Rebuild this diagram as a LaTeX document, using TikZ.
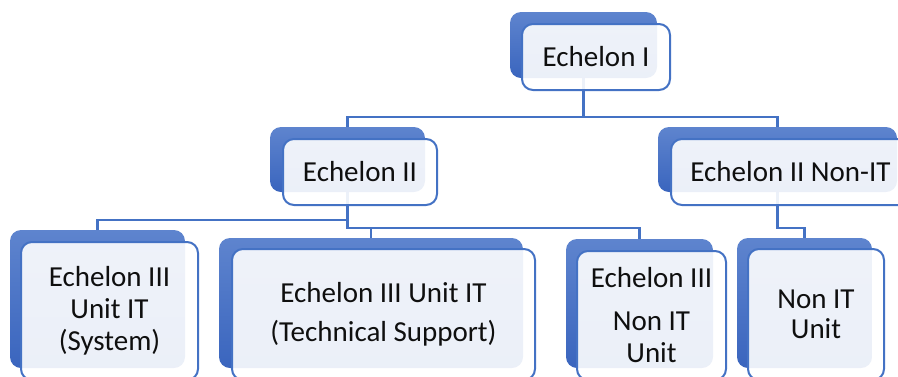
\documentclass[tikz,border=0pt]{standalone}
\usepackage{fontspec}
\setmainfont{Carlito}
\usetikzlibrary{backgrounds}
\definecolor{boxline}{RGB}{68,114,196}
\definecolor{backtop}{RGB}{94,132,206}
\definecolor{backbot}{RGB}{58,101,190}
\definecolor{inktext}{RGB}{15,15,15}
\begin{document}
\begin{tikzpicture}[x=1pt, y=-1pt,
   backbox/.style={rounded corners=11pt, top color=backtop, bottom color=backbot, inner sep=0pt},
   unitbox/.style={draw=boxline, line width=2pt, rounded corners=11pt, fill=white,
                   fill opacity=0.9, text opacity=1, text=inktext, inner sep=0pt, align=center,
                   font=\fontsize{29}{32}\selectfont},
   conn/.style={draw=boxline, line width=2.2pt}]

\useasboundingbox (0,0) rectangle (898,376);
\clip (0,0) rectangle (898,376);

% back boxes
\node[backbox, minimum width=147pt, minimum height=66pt] (e1b) at (583.5,45) {};
\node[backbox, minimum width=155pt, minimum height=65pt] (e2b) at (347.5,159.5) {};
\node[backbox, minimum width=239pt, minimum height=65pt] (e2nb) at (777.5,159.5) {};
\node[backbox, minimum width=175pt, minimum height=138pt] (e3ab) at (97.5,299) {};
\node[backbox, minimum width=304pt, minimum height=130pt] (e3bb) at (371,303) {};
\node[backbox, minimum width=147pt, minimum height=129pt] (e3cb) at (639.5,303.5) {};
\node[backbox, minimum width=135pt, minimum height=130pt] (e3db) at (804.5,303) {};

% front boxes
\node[unitbox, minimum width=148pt, minimum height=66pt] (e1) at (596,57) {Echelon I};
\node[unitbox, minimum width=154pt, minimum height=66pt] (e2) at (360,172) {Echelon II};
\node[unitbox, minimum width=239pt, minimum height=66pt] (e2n) at (790.5,172) {Echelon II Non-IT};
\node[unitbox, minimum width=177pt, minimum height=138pt] (e3a) at (109.5,311)
   {Echelon III\\Unit IT\\(System)};
\node[unitbox, minimum width=303pt, minimum height=131pt, font=\fontsize{29}{39}\selectfont]
   (e3b) at (383.5,314.5) {Echelon III Unit IT\\(Technical Support)};
\node[unitbox, minimum width=149pt, minimum height=129pt] (e3c) at (651.5,315.5)
   {Echelon III\\[11pt]Non IT\\Unit};
\node[unitbox, minimum width=136pt, minimum height=131pt, font=\fontsize{29}{30}\selectfont]
   (e3d) at (816,314.5) {Non IT\\Unit};

% connectors
\begin{scope}[on background layer]
  \draw[conn] (e1b.south) -- ++(0,39) -| (e2b.north);
  \draw[conn] (e1b.south) -- ++(0,39) -| (e2nb.north);
  \draw[conn] (e2b.south) -- ++(0,28) -| (e3ab.north);
  \draw[conn] (e2b.south) -- ++(0,36) -| (e3bb.north);
  \draw[conn] (e2b.south) -- ++(0,36) -| (e3cb.north);
  \draw[conn] (e2nb.south) -- ++(0,36) -| (e3db.north);
\end{scope}

\end{tikzpicture}
\end{document}
